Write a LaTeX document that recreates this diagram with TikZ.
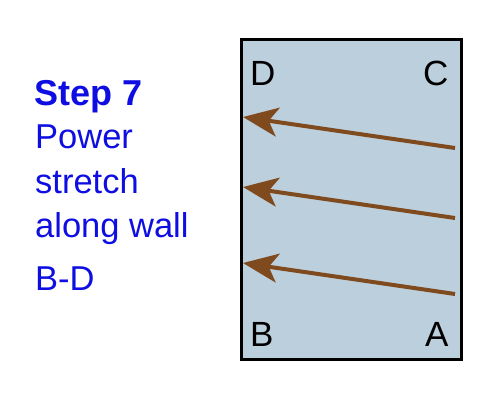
\documentclass[tikz,border=0pt]{standalone}
\usepackage{fontspec}
\setmainfont{Liberation Sans}
\usetikzlibrary{arrows.meta}
\definecolor{wallfill}{HTML}{BCCFDD}
\definecolor{arrowbrown}{HTML}{7F4A1E}
\definecolor{textblue}{HTML}{0E0EE2}
\begin{document}
\begin{tikzpicture}[x=1pt,y=-1pt,
  lbl/.style={anchor=base west,inner sep=0pt,font=\fontsize{35}{40}\selectfont},
  steptxt/.style={anchor=base west,inner sep=0pt,text=textblue,font=\fontsize{34.5}{40}\selectfont},
  pusharrow/.style={draw=arrowbrown,line width=4pt,-{Stealth[length=35pt,width=29pt,inset=9pt]}}]
\useasboundingbox (0,0) rectangle (500,400);
\node[draw=black,line width=3pt,fill=wallfill,minimum width=220pt,minimum height=320pt,inner sep=0pt,anchor=north west] (room) at (240,38) {};
\node[lbl] (D) at (250,85) {D};
\node[lbl] (C) at (423,85) {C};
\node[lbl] (B) at (250,346) {B};
\node[lbl] (A) at (425,346) {A};
\coordinate (s1) at (455,148); \coordinate (e1) at (243,117);
\coordinate (s2) at (455,218); \coordinate (e2) at (243,187);
\coordinate (s3) at (455,294); \coordinate (e3) at (243,263);
\draw[pusharrow] (s1) -- (e1);
\draw[pusharrow] (s2) -- (e2);
\draw[pusharrow] (s3) -- (e3);
\node[steptxt,font=\fontsize{36}{40}\selectfont\bfseries] (t1) at (34,105) {Step 7};
\node[steptxt] (t2) at (35,148) {Power};
\node[steptxt] (t3) at (35,193) {stretch};
\node[steptxt] (t4) at (35,237) {along wall};
\node[steptxt] (t5) at (35,290) {B-D};
\end{tikzpicture}
\end{document}
